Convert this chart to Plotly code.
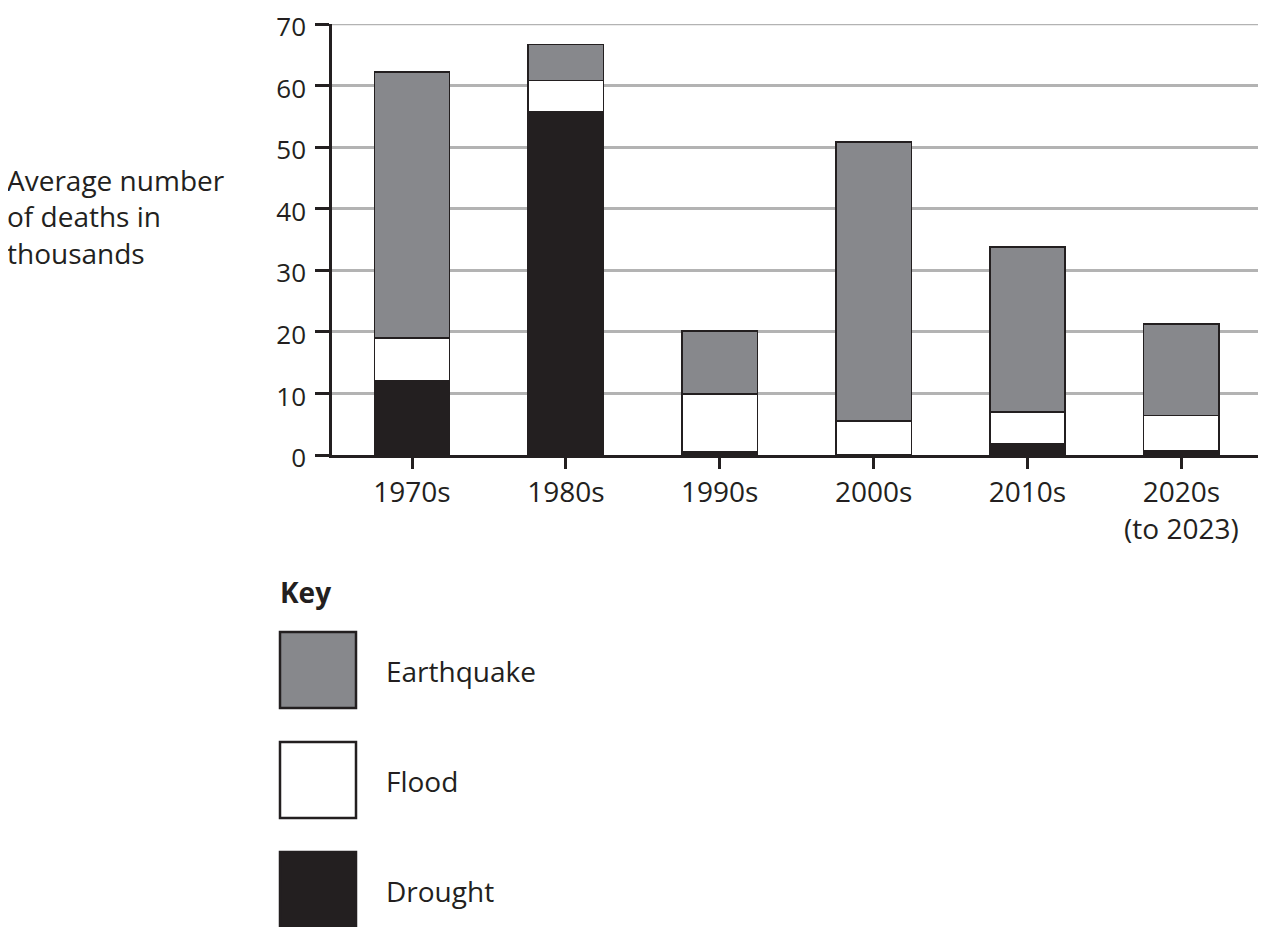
import plotly.graph_objects as go

decades = ["1970s", "1980s", "1990s", "2000s", "2010s", "2020s<br>(to 2023)"]
drought = [12.0, 55.8, 0.5, None, 1.9, 0.7]
flood = [7.0, 5.0, 9.4, 5.5, 5.1, 5.7]
earthquake = [43.2, 5.9, 10.2, 45.3, 26.8, 14.9]
y_ticks = [0, 10, 20, 30, 40, 50, 60, 70]

OFF = 8  # page body margin
W, H = 1266 - OFF, 927 - OFF
L, R, T = 332 - OFF, 0, 24 - OFF
B = H - (455 - OFF)
PW, PH = W - L - R, H - T - B

FONT = "Open Sans"
DARK = "#231f20"
GREY = "#87888c"
GRID = "#b3b3b3"
FS = 28

def px_x(p):
    return (p - OFF - L) / PW

def px_y(p):
    return (H - B - (p - OFF)) / PH

fig = go.Figure()
for name, vals, col in [("Drought", drought, DARK), ("Flood", flood, "#ffffff"),
                        ("Earthquake", earthquake, GREY)]:
    fig.add_trace(go.Bar(x=decades, y=vals, name=name, marker_color=col,
                         marker_line_color=DARK, marker_line_width=1.5,
                         width=0.49, showlegend=False))

shapes = [dict(type="line", xref="paper", yref="y", x0=0, x1=1,
               y0=y_ticks[-1], y1=y_ticks[-1], layer="below",
               line=dict(color=GRID, width=2.5))]
annotations = []
key = [("Earthquake", GREY, 632, 708, 671), ("Flood", "#ffffff", 742, 818, 781),
       ("Drought", DARK, 852, 935, 891)]
for label, col, y0, y1, yc in key:
    shapes.append(dict(type="rect", xref="paper", yref="paper",
                       x0=px_x(280), x1=px_x(356), y0=px_y(y1), y1=px_y(y0),
                       fillcolor=col, line=dict(color=DARK, width=2.5)))
    annotations.append(dict(text=label, xref="paper", yref="paper", x=px_x(384), y=px_y(yc),
                            xanchor="left", yanchor="middle", showarrow=False,
                            font=dict(family=FONT, size=FS, color=DARK)))
annotations.append(dict(text="<b>Key</b>", xref="paper", yref="paper", x=px_x(278), y=px_y(592),
                        xanchor="left", yanchor="middle", showarrow=False,
                        font=dict(family=FONT, size=FS, color=DARK)))
annotations.append(dict(text="Average number<br>of deaths in<br>thousands", xref="paper", yref="paper",
                        x=px_x(5), y=px_y(216), xanchor="left", yanchor="middle", align="left",
                        showarrow=False, font=dict(family=FONT, size=FS, color=DARK)))

fig.update_layout(
    barmode="stack", bargap=0.5,
    width=W, height=H, margin=dict(l=L, r=R, t=T, b=B, pad=0, autoexpand=False),
    plot_bgcolor="white", paper_bgcolor="white",
    font=dict(family=FONT, size=FS, color=DARK),
    shapes=shapes, annotations=annotations,
    xaxis=dict(range=[-0.52, 5.55], showline=True, linecolor=DARK, linewidth=2.5,
               ticks="outside", ticklen=11, tickwidth=2.5, tickcolor=DARK,
               showgrid=False, tickfont=dict(family=FONT, size=FS, color=DARK)),
    yaxis=dict(range=[0, 70], tickvals=y_ticks, showline=True, linecolor=DARK, linewidth=2.5,
               ticks="outside", ticklen=14, tickwidth=2.5, tickcolor=DARK,
               showgrid=True, gridcolor=GRID, gridwidth=2.5, zeroline=False,
               ticklabelstandoff=4, ticklabeloverflow="allow", automargin=False,
               ticklabelshift=3,
               tickfont=dict(family=FONT, size=26, color=DARK)),
)
fig.write_html("out.html")
